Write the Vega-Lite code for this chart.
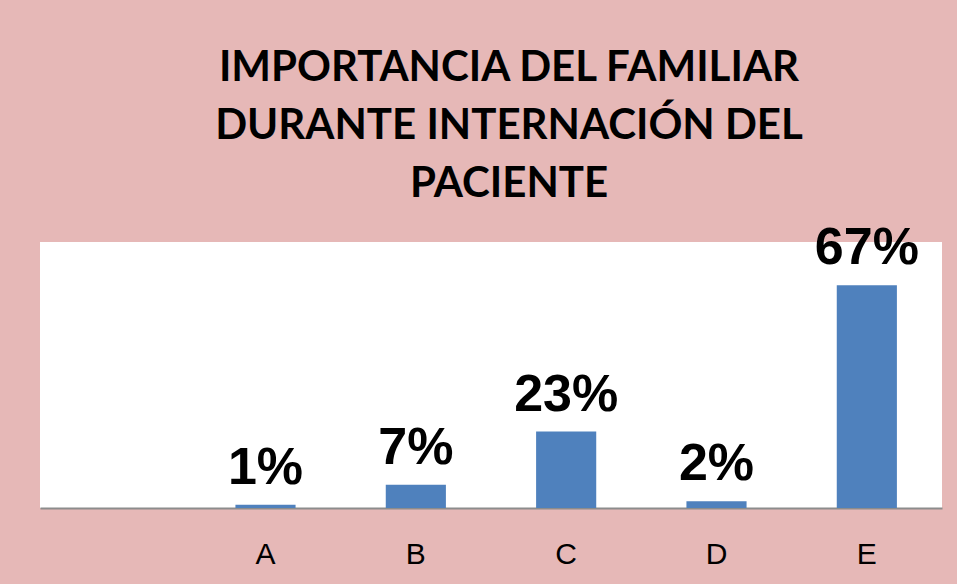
{
  "$schema": "https://vega.github.io/schema/vega-lite/v6.json",
  "width": 902,
  "height": 266,
  "autosize": {"type": "none"},
  "padding": {"left": 40, "top": 242, "right": 15, "bottom": 76},
  "background": "#E6B8B7",
  "title": {
    "text": ["IMPORTANCIA DEL FAMILIAR", "DURANTE INTERNACIÓN DEL", "PACIENTE"],
    "font": "Lato",
    "fontSize": 42,
    "fontWeight": "bold",
    "color": "#000000",
    "lineHeight": 58,
    "anchor": "middle",
    "dx": 18,
    "offset": 16
  },
  "data": {
    "values": [
      {"cat": "A", "value": 1, "label": "1%"},
      {"cat": "B", "value": 7, "label": "7%"},
      {"cat": "C", "value": 23, "label": "23%"},
      {"cat": "D", "value": 2, "label": "2%"},
      {"cat": "E", "value": 67, "label": "67%"}
    ]
  },
  "config": {
    "view": {"fill": "#FFFFFF", "stroke": null}
  },
  "encoding": {
    "x": {
      "field": "cat",
      "type": "nominal",
      "sort": null,
      "scale": {"domain": [" ", "A", "B", "C", "D", "E"], "paddingInner": 0.6, "paddingOuter": 0.3},
      "axis": {
        "title": null,
        "labelAngle": 0,
        "labelFont": "Liberation Sans",
        "labelFontSize": 30,
        "labelColor": "#000000",
        "labelPadding": 31,
        "ticks": false,
        "domainColor": "#8C8C8C",
        "domainWidth": 2
      }
    },
    "y": {
      "field": "value",
      "type": "quantitative",
      "scale": {"domain": [0, 80]},
      "axis": null
    }
  },
  "layer": [
    {"mark": {"type": "bar", "color": "#4F81BD"}},
    {
      "mark": {"type": "text", "font": "Liberation Sans", "fontSize": 52, "fontWeight": "bold", "color": "#000000", "baseline": "alphabetic", "dy": -21},
      "encoding": {"text": {"field": "label"}}
    }
  ]
}
